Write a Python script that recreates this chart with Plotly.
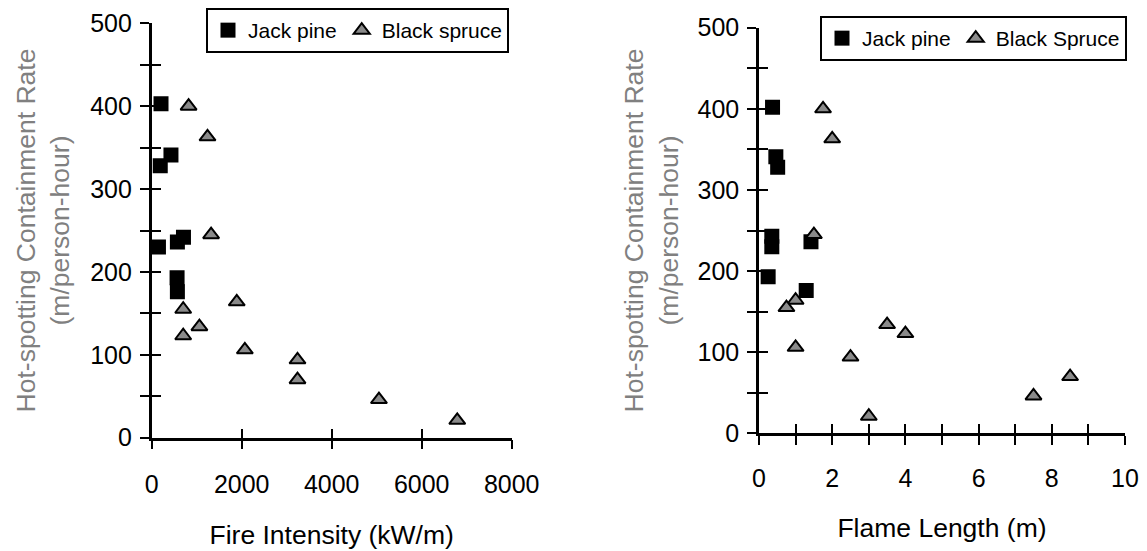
import plotly.graph_objects as go

# ---- data ----
jp_fire_intensity = [207, 428, 190, 150, 571, 706, 564, 571]
jp_rate_fi = [403, 341, 328, 230, 236, 242, 193, 176]

bs_fire_intensity = [820, 1240, 1320, 1890, 700, 1060, 700, 2070, 3240, 3240, 5050, 6790]
bs_rate_fi = [400, 363, 245, 164, 155, 134, 123, 106, 94, 70, 46, 21]

jp_flame_length = [0.37, 0.46, 0.51, 0.35, 0.35, 0.25, 1.42, 1.29]
jp_rate_fl = [402, 341, 328, 243, 230, 193, 236, 176]

bs_flame_length = [1.75, 2.0, 1.5, 1.0, 0.75, 3.5, 4.0, 1.0, 2.5, 8.5, 7.5, 3.0]
bs_rate_fl = [400, 363, 245, 164, 155, 134, 123, 106, 94, 70, 46, 21]

x1_ticks = [0, 2000, 4000, 6000, 8000]
x2_ticks = [0, 2, 4, 6, 8, 10]
y_ticks = [0, 100, 200, 300, 400, 500]

W, H = 1147, 551
OFF = 8  # page body margin
FONT = "Liberation Sans, Arial, sans-serif"

def px(v):
    return (v - OFF) / W

def py(v):
    return 1 - (v - OFF) / H

sq = dict(symbol="square", size=15, color="black", line=dict(width=0))
tri = dict(symbol="triangle-up", size=14, color="#8a8a8a", line=dict(color="black", width=2))

fig = go.Figure()
fig.add_trace(go.Scatter(x=jp_fire_intensity, y=jp_rate_fi, mode="markers", name="Jack pine",
                         marker=sq, xaxis="x", yaxis="y", legend="legend"))
fig.add_trace(go.Scatter(x=bs_fire_intensity, y=bs_rate_fi, mode="markers", name="Black spruce",
                         marker=tri, xaxis="x3", yaxis="y3", legend="legend"))
fig.add_trace(go.Scatter(x=jp_flame_length, y=jp_rate_fl, mode="markers", name="Jack pine",
                         marker=sq, xaxis="x2", yaxis="y2", legend="legend2"))
fig.add_trace(go.Scatter(x=bs_flame_length, y=bs_rate_fl, mode="markers", name="Black Spruce",
                         marker=tri, xaxis="x4", yaxis="y4", legend="legend2"))

dom_x1 = [px(151.7), px(511.7)]
dom_x2 = [px(759), px(1125)]
dom_y1 = [py(437.7), py(23.3)]
dom_y2 = [py(433.3), py(27.7)]

tickfont = dict(family=FONT, size=25, color="black")
titlefont = dict(family=FONT, size=26.5, color="black")
ytitlefont = dict(family=FONT, size=26.5, color="#808080")
TL = 9
tk = dict(ticklen=TL, tickwidth=2, tickcolor="black")
common = dict(showgrid=False, zeroline=False, linecolor="black", linewidth=2.5, automargin=False,
              ticks="outside", tickfont=tickfont, **tk)
overlay = dict(showgrid=False, zeroline=False, showline=False, showticklabels=False, automargin=False,
               ticks="inside", **tk)

fig.update_layout(
    width=W, height=H,
    margin=dict(l=0, r=0, t=0, b=0, autoexpand=False),
    paper_bgcolor="white", plot_bgcolor="white",
    font=dict(family=FONT, color="black"),
    xaxis=dict(domain=dom_x1, anchor="y", range=[0, 8000], tickvals=x1_ticks, tickformat="d",
               ticklabelstandoff=14,
               title=dict(text="Fire Intensity (kW/m)", font=titlefont, standoff=28), **common),
    yaxis=dict(domain=dom_y1, anchor="x", range=[0, 500], tickvals=y_ticks, ticklabelstandoff=3,
               minor=dict(dtick=50, ticks="outside", **tk),
               title=dict(text="Hot-spotting Containment Rate<br>(m/person-hour)", font=ytitlefont, standoff=13),
               **common),
    xaxis3=dict(domain=dom_x1, anchor="y3", overlaying="x", range=[0, 8000], tickvals=x1_ticks, **overlay),
    yaxis3=dict(domain=dom_y1, anchor="x3", overlaying="y", range=[0, 500], tickvals=y_ticks,
                minor=dict(dtick=50, ticks="inside", **tk), **overlay),
    xaxis2=dict(domain=dom_x2, anchor="y2", range=[0, 10], tickvals=x2_ticks, ticklabelstandoff=12,
                minor=dict(dtick=1, ticks="outside", **tk),
                title=dict(text="Flame Length (m)", font=titlefont, standoff=28), **common),
    yaxis2=dict(domain=dom_y2, anchor="x2", range=[0, 500], tickvals=y_ticks, ticklabelstandoff=3,
                minor=dict(dtick=50, ticks="outside", **tk),
                title=dict(text="Hot-spotting Containment Rate<br>(m/person-hour)", font=ytitlefont, standoff=12),
                **common),
    xaxis4=dict(domain=dom_x2, anchor="y4", overlaying="x2", range=[0, 10], tickvals=x2_ticks,
                minor=dict(dtick=1, ticks="inside", **tk), **overlay),
    yaxis4=dict(domain=dom_y2, anchor="x4", overlaying="y2", range=[0, 500], tickvals=y_ticks,
                minor=dict(dtick=50, ticks="inside", **tk), **overlay),
    legend=dict(orientation="h", x=px(357.5), y=py(8), xanchor="center", yanchor="top",
                bordercolor="black", borderwidth=2, bgcolor="white",
                font=dict(family=FONT, size=21, color="black"), itemwidth=30),
    legend2=dict(orientation="h", x=px(973.5), y=py(16), xanchor="center", yanchor="top",
                 bordercolor="black", borderwidth=2, bgcolor="white",
                 font=dict(family=FONT, size=21, color="black"), itemwidth=30),
    showlegend=True,
)

fig.write_html("out.html")
